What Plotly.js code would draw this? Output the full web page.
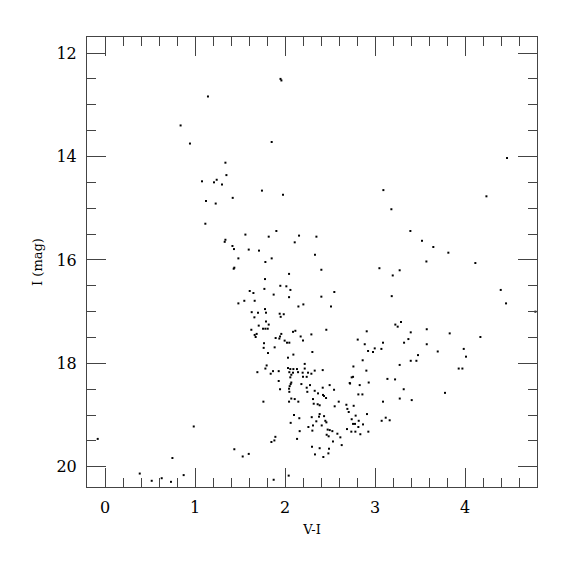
<!DOCTYPE html>
<html><head><meta charset="utf-8">
<script src="https://cdn.plot.ly/plotly-3.0.1.min.js"></script>
<style>html,body{margin:0;padding:0;background:#fff}#c{width:575px;height:575px}</style>
</head><body><div id="c"></div>
<script>
// V-I colour values of the stars
const colorVI = [
1.95,1.96,1.144,0.84,0.944,1.852,1.338,1.349,1.078,1.241,1.211,1.30,1.744,1.978,1.122,1.23,1.419,1.115,1.56,1.904,1.819,2.156,1.338,1.33,2.108,1.416,1.433,1.597,1.711,1.482,1.852,
4.467,3.093,4.238,3.182,3.393,2.349,3.522,3.648,3.815,2.333,
1.782,1.437,1.43,2.045,1.778,1.948,2.015,1.771,2.06,1.608,1.649,2.045,1.874,1.548,1.663,1.482,2.204,2.149,1.778,1.63,1.70,1.789,1.941,1.986,1.952,1.66,
2.404,3.049,3.571,4.115,3.274,3.197,2.404,2.548,2.511,3.186,4.397,4.456,4.782,
1.789,1.819,1.708,1.626,1.756,1.782,1.808,1.685,1.663,1.674,1.959,1.945,1.896,1.937,2.115,2.089,2.174,2.293,2.459,2.2,1.996,2.022,2.048,1.767,1.763,1.885,1.811,2.093,2.304,2.033,2.219,1.796,1.782,1.693,1.867,1.93,1.841,2.033,2.059,2.093,2.133,2.219,2.196,2.256,2.33,2.419,2.048,2.089,2.145,2.293,2.2,2.241,2.07,2.059,1.93,2.07,2.063,2.052,2.182,2.241,2.278,1.945,2.045,2.048,2.248,2.33,2.367,2.419,2.496,2.545,2.422,2.433,2.456,2.07,2.108,2.311,
3.226,3.252,3.289,2.908,3.397,3.575,3.83,2.808,2.886,3.089,3.371,3.323,3.575,2.997,2.923,2.978,3.071,3.697,3.478,3.397,3.46,2.863,3.274,2.76,2.904,3.93,2.741,2.756,2.719,2.723,3.138,3.223,2.93,2.83,3.319,2.815,2.86,3.275,3.778,
4.171,3.986,4.011,3.971,3.408,3.163,
2.597,3.089,2.148,2.045,2.319,2.363,2.385,2.552,2.682,2.763,2.693,2.708,2.1,2.159,2.297,2.385,2.378,2.434,2.448,2.46,2.348,2.311,2.408,2.26,2.063,2.785,2.741,2.819,2.911,3.074,3.119,2.756,2.778,2.867,2.815,2.689,2.737,2.782,2.474,2.497,2.526,2.582,2.615,2.463,2.485,2.163,2.304,2.837,2.926,2.134,2.533,2.63,2.3,2.385,2.489,2.482,2.333,2.426,
1.76,0.986,1.893,1.882,1.849,-0.081,1.437,1.53,1.597,0.749,0.386,0.874,0.63,0.519,0.733,1.874,2.041
];
// I magnitudes of the stars
const magI = [
12.50,12.53,12.84,13.40,13.75,13.72,14.12,14.36,14.48,14.45,14.50,14.54,14.66,14.74,14.86,14.91,14.80,15.30,15.51,15.44,15.55,15.53,15.61,15.65,15.66,15.73,15.79,15.80,15.82,15.97,15.97,
14.03,14.65,14.77,15.02,15.44,15.55,15.63,15.75,15.86,15.90,
16.04,16.15,16.17,16.27,16.37,16.50,16.51,16.56,16.58,16.60,16.64,16.72,16.67,16.79,16.79,16.84,16.86,16.90,16.95,17.01,17.02,17.02,17.04,17.05,17.10,17.11,
16.19,16.16,16.03,16.06,16.20,16.30,16.71,16.62,16.90,16.70,16.58,16.84,17.00,
17.19,17.25,17.27,17.35,17.33,17.33,17.33,17.43,17.45,17.49,17.43,17.48,17.51,17.52,17.37,17.39,17.48,17.44,17.35,17.56,17.56,17.60,17.60,17.61,17.70,17.69,17.80,17.83,17.78,17.89,18.01,18.04,18.10,18.17,18.15,18.15,18.20,18.09,18.11,18.11,18.11,18.10,18.18,18.18,18.14,18.13,18.17,18.18,18.17,18.20,18.26,18.26,18.22,18.27,18.34,18.37,18.40,18.44,18.40,18.47,18.42,18.50,18.49,18.55,18.55,18.53,18.58,18.47,18.42,18.51,18.61,18.63,18.67,18.68,18.69,18.69,
17.25,17.29,17.20,17.38,17.40,17.34,17.42,17.54,17.63,17.60,17.53,17.60,17.63,17.71,17.76,17.78,17.72,17.77,17.84,17.95,17.95,17.94,18.03,18.06,18.14,18.10,18.27,18.26,18.38,18.39,18.30,18.31,18.37,18.42,18.50,18.60,18.60,18.68,18.57,
17.49,17.72,17.87,18.10,18.71,19.10,
18.74,18.74,18.74,18.74,18.78,18.79,18.81,18.83,18.80,18.82,18.88,18.94,19.00,19.06,19.04,18.98,19.03,19.02,19.11,19.14,19.12,19.20,19.20,19.23,19.15,19.01,19.08,19.11,18.98,19.11,19.05,19.17,19.17,19.18,19.23,19.27,19.32,19.32,19.28,19.29,19.31,19.36,19.43,19.38,19.41,19.31,19.30,19.37,19.32,19.46,19.51,19.58,19.61,19.64,19.65,19.74,19.76,19.81,
18.74,19.22,19.42,19.49,19.52,19.46,19.66,19.80,19.75,19.83,20.13,20.16,20.22,20.27,20.29,20.25,20.17
];
const xTickVals = [0,1,2,3,4];
const yTickVals = [12,14,16,18,20];

const axFont = {family:'"DejaVu Serif", "Liberation Serif", serif', size:16, color:'#000'};
const titleFont = {family:'"DejaVu Serif", "Liberation Serif", serif', size:13, color:'#000'};

const trace = {
  x: colorVI, y: magI, type:'scatter', mode:'markers',
  marker:{symbol:'square', size:2, color:'#000', line:{width:0}},
  hoverinfo:'skip'
};
const common = {
  showline:true, linecolor:'#444', linewidth:1, mirror:'allticks',
  ticks:'inside', ticklen:19, tickcolor:'#444', tickwidth:1,
  showgrid:false, zeroline:false, tickfont:axFont
};
const layout = {
  width:575, height:575,
  margin:{l:87, r:38, t:37, b:88},
  paper_bgcolor:'#fff', plot_bgcolor:'#fff',
  showlegend:false,
  xaxis: Object.assign({}, common, {
    range:[-0.2,4.8], tickvals:xTickVals, ticktext:xTickVals.map(String),
    minor:{dtick:0.2, tick0:0, ticks:'inside', ticklen:9, tickcolor:'#444', tickwidth:1, showgrid:false},
    title:{text:'V-I', font:titleFont, standoff:8}, ticklabelstandoff:6
  }),
  yaxis: Object.assign({}, common, {
    range:[20.39,11.69], tickvals:yTickVals, ticktext:yTickVals.map(String),
    minor:{dtick:0.5, tick0:0, ticks:'inside', ticklen:9, tickcolor:'#444', tickwidth:1, showgrid:false},
    title:{text:'I (mag)', font:titleFont, standoff:10}, ticklabelstandoff:6
  })
};
Plotly.newPlot('c',[trace],layout,{staticPlot:true, displayModeBar:false});
</script></body></html>
